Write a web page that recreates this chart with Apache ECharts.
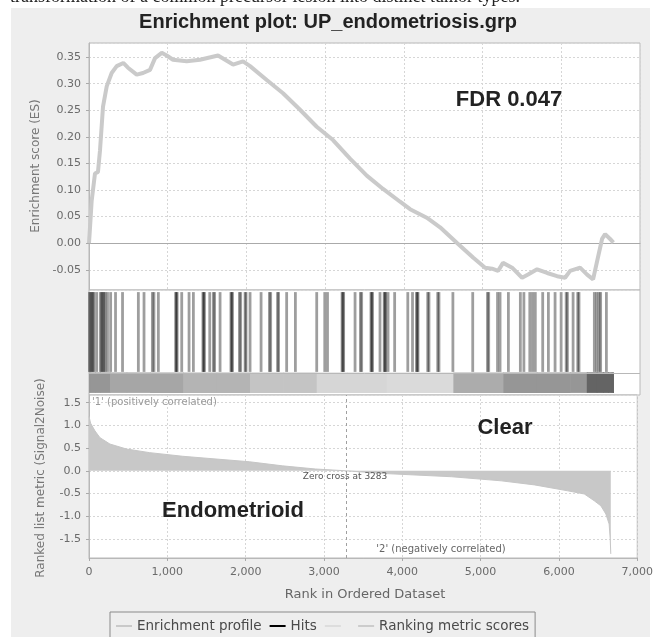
<!DOCTYPE html>
<html>
<head>
<meta charset="utf-8">
<script src="https://cdn.jsdelivr.net/npm/echarts@6/dist/echarts.min.js"></script>
<style>
  html, body { margin: 0; padding: 0; background: #ffffff; }
  #bg { position: absolute; left: 11px; top: 8px; width: 639px; height: 629px; background: #eeeeee; }
  #chart { position: absolute; left: 0; top: 0; width: 656px; height: 637px; }
</style>
</head>
<body>
<div id="bg"></div>
<div id="chart"></div>
<script>
// ---------------- data ----------------
const titleText = 'Enrichment plot: UP_endometriosis.grp';
const captionText = 'transformation of a common precursor lesion into distinct tumor types.';

// Running enrichment score (rank, ES)
const esRank = [0, 13, 34, 76, 114, 140, 178, 225, 288, 352, 436, 495, 606, 686, 775, 839, 924, 987, 1067, 1241,
  1410, 1639, 1830, 1957, 2046, 2258, 2465, 2681, 2893, 3100, 3316, 3529, 3736, 3952, 4079, 4291, 4460, 4672,
  4879, 5032, 5121, 5197, 5260, 5375, 5502, 5578, 5693, 5820, 5947, 6048, 6112, 6239, 6328, 6404, 6455, 6518,
  6557, 6620, 6662];
const esScore = [0.000, 0.030, 0.080, 0.131, 0.134, 0.175, 0.257, 0.295, 0.320, 0.333, 0.339, 0.330, 0.317, 0.320,
  0.326, 0.348, 0.358, 0.353, 0.345, 0.342, 0.345, 0.353, 0.336, 0.342, 0.333, 0.307, 0.282, 0.251, 0.219, 0.194,
  0.159, 0.127, 0.102, 0.078, 0.064, 0.048, 0.030, 0.001, -0.027, -0.046, -0.048, -0.052, -0.037, -0.046, -0.065,
  -0.059, -0.049, -0.056, -0.062, -0.065, -0.052, -0.046, -0.059, -0.068, -0.034, 0.008, 0.017, 0.008, 0.001];

// Ranks of the gene-set members (hits)
const hitRanks = [5, 20, 35, 50, 62, 98, 145, 160, 175, 190, 205, 235, 275, 337, 426, 627, 699, 805, 825, 881,
  1100, 1110, 1120, 1178, 1271, 1326, 1447, 1457, 1467, 1534, 1580, 1596, 1665, 1803, 1813, 1823, 1911, 1927,
  1983, 1995, 2046, 2186, 2292, 2308, 2395, 2409, 2511, 2622, 2893, 2995, 3030, 3215, 3225, 3235, 3380, 3448,
  3464, 3582, 3592, 3602, 3697, 3750, 3760, 3768, 3799, 3883, 4050, 4110, 4160, 4170, 4180, 4303, 4319, 4430,
  4446, 4623, 4875, 5062, 5078, 5190, 5222, 5328, 5480, 5525, 5600, 5635, 5670, 5764, 5836, 5921, 5998, 6062,
  6078, 6150, 6209, 6225, 6420, 6450, 6480, 6500, 6573];

// Ranked list metric (rank, Signal2Noise)
const metricRank = [0, 20, 76, 140, 267, 479, 775, 1198, 1622, 2046, 2469, 2893, 3283, 3783, 4629, 5264, 5689,
  6112, 6324, 6451, 6535, 6599, 6641, 6655, 6662];
const metricValue = [1.20, 1.05, 0.88, 0.73, 0.59, 0.48, 0.40, 0.32, 0.26, 0.20, 0.11, 0.04, 0.00, -0.06, -0.13,
  -0.22, -0.31, -0.44, -0.51, -0.66, -0.77, -0.95, -1.17, -1.50, -1.83];

const zeroCross = 3283;
const fdrLabel = 'FDR 0.047';
const posLabel = "'1' (positively correlated)";
const negLabel = "'2' (negatively correlated)";
const classA = 'Endometrioid';
const classB = 'Clear';

const xMin = 0, xMax = 7000, xStep = 1000;
// ---------------------------------------------------------------

const FONT = '"DejaVu Sans", sans-serif';
const BOLD = '"Liberation Sans", Arial, sans-serif';

function shade(v) {
  let g;
  if (v >= 0) {
    g = v > 0.6 ? 150 : v > 0.35 ? 166 : v > 0.22 ? 180 : v > 0.1 ? 196 : 214;
  } else {
    const a = -v;
    g = a < 0.12 ? 218 : a < 0.22 ? 172 : a < 0.5 ? 150 : 100;
  }
  return 'rgb(' + g + ',' + g + ',' + g + ')';
}

const esData = esRank.map((r, i) => [r, esScore[i]]);
const metricData = metricRank.map((r, i) => [r, metricValue[i]]);
const barSegments = [];
for (let i = 0; i < metricRank.length - 1; i++) {
  barSegments.push([metricRank[i], metricRank[i + 1], metricValue[i]]);
}

const chart = echarts.init(document.getElementById('chart'), null, { renderer: 'canvas' });

const gridCommon = { left: 89, width: 551, show: true, backgroundColor: '#ffffff', borderColor: '#b8b8b8', borderWidth: 1 };
const dotted = { show: true, lineStyle: { color: '#d6d6d6', type: [2, 2], width: 1 } };
const labelStyle = { color: '#6a6a6a', fontFamily: FONT, fontSize: 11 };

const option = {
  animation: false,
  backgroundColor: 'transparent',
  textStyle: { fontFamily: FONT },
  grid: [
    Object.assign({ top: 43, height: 247 }, gridCommon),
    Object.assign({ top: 290, height: 105 }, gridCommon),
    Object.assign({ top: 395, height: 163 }, gridCommon)
  ],
  xAxis: [
    { gridIndex: 0, type: 'value', min: xMin, max: xMax, interval: xStep,
      axisLine: { show: true, onZero: true, lineStyle: { color: '#aaaaaa', width: 1.2 } },
      axisTick: { show: false }, axisLabel: { show: false }, splitLine: dotted },
    { gridIndex: 1, type: 'value', min: xMin, max: xMax, interval: xStep,
      axisLine: { show: false }, axisTick: { show: false }, axisLabel: { show: false }, splitLine: { show: false } },
    { gridIndex: 2, type: 'value', min: xMin, max: xMax, interval: xStep,
      axisLine: { show: true, onZero: false, lineStyle: { color: '#b8b8b8' } },
      axisTick: { show: true, length: 3, lineStyle: { color: '#aaaaaa' } },
      axisLabel: Object.assign({ margin: 9, formatter: v => v.toLocaleString('en-US') }, labelStyle),
      splitLine: dotted }
  ],
  yAxis: [
    { gridIndex: 0, type: 'value', min: -0.088, max: 0.3765, splitNumber: 9,
      axisLine: { show: true, lineStyle: { color: '#b8b8b8' } },
      axisTick: { show: true, length: 3, lineStyle: { color: '#aaaaaa' } },
      axisLabel: Object.assign({ margin: 8, showMinLabel: false, showMaxLabel: false, formatter: v => v.toFixed(2) }, labelStyle),
      splitLine: dotted },
    { gridIndex: 1, type: 'value', min: 0, max: 1, show: false, splitLine: { show: false } },
    { gridIndex: 2, type: 'value', min: -1.92, max: 1.67, splitNumber: 7,
      axisLine: { show: true, lineStyle: { color: '#b8b8b8' } },
      axisTick: { show: true, length: 3, lineStyle: { color: '#aaaaaa' } },
      axisLabel: Object.assign({ margin: 8, showMinLabel: false, showMaxLabel: false, formatter: v => v.toFixed(1) }, labelStyle),
      splitLine: dotted }
  ],
  legend: {
    left: 110, top: 612,
    data: ['Enrichment profile', 'Hits', '\u00a0', 'Ranking metric scores'],
    icon: 'rect', itemWidth: 16, itemHeight: 2, itemGap: 8,
    borderColor: '#8a8a8a', borderWidth: 1, borderRadius: 0,
    padding: [7, 6, 20, 6],
    selectedMode: false,
    textStyle: { color: '#4a4a4a', fontFamily: FONT, fontSize: 13.5 }
  },
  series: [
    { name: 'Enrichment profile', type: 'line', xAxisIndex: 0, yAxisIndex: 0, data: esData,
      showSymbol: false, symbol: 'none', smooth: false, z: 5,
      itemStyle: { color: '#c9c9c9' },
      lineStyle: { color: '#cacaca', width: 4 } },
    { name: 'Hits', type: 'custom', xAxisIndex: 1, yAxisIndex: 1, data: hitRanks.map(r => [r]),
      itemStyle: { color: '#000000' },
      renderItem: function (params, api) {
        const p0 = api.coord([api.value(0), 0.98]);
        const p1 = api.coord([api.value(0), 0.22]);
        return { type: 'line', shape: { x1: p0[0], y1: p0[1], x2: p1[0], y2: p1[1] },
          style: { stroke: '#000000', lineWidth: 2.8, opacity: 0.38 } };
      },
      z: 4 },
    { name: '\u00a0', type: 'custom', xAxisIndex: 1, yAxisIndex: 1, data: barSegments,
      itemStyle: { color: '#dddddd' },
      renderItem: function (params, api) {
        const a = api.coord([api.value(0), 0.215]);
        const b = api.coord([api.value(1), 0.02]);
        return { type: 'rect', shape: { x: a[0], y: a[1], width: b[0] - a[0] + 0.6, height: b[1] - a[1] },
          style: { fill: shade(api.value(2)) } };
      },
      markLine: { silent: true, symbol: 'none', label: { show: false },
        lineStyle: { color: '#b8b8b8', type: 'solid', width: 1 }, data: [{ yAxis: 0.215 }] },
      z: 3 },
    { name: 'Ranking metric scores', type: 'line', xAxisIndex: 2, yAxisIndex: 2, data: metricData,
      showSymbol: false, symbol: 'none', z: 3,
      itemStyle: { color: '#cccccc' },
      lineStyle: { color: '#c6c6c6', width: 1 },
      areaStyle: { color: '#c8c8c8', opacity: 1 },
      markLine: { silent: true, symbol: 'none', label: { show: false },
        lineStyle: { color: '#a0a0a0', type: [3, 3], width: 1 }, data: [{ xAxis: zeroCross }] } }
  ],
  graphic: [
    { type: 'text', z: 100, style: { text: captionText, x: 10, y: 6, font: '18px "Liberation Serif", serif', fill: '#222', align: 'left', verticalAlign: 'bottom' } },
    { type: 'text', z: 100, style: { text: titleText, x: 328, y: 22, font: 'bold 20px ' + BOLD, fill: '#222', align: 'center', verticalAlign: 'middle' } },
    { type: 'text', z: 100, rotation: Math.PI / 2, x: 36, y: 166, style: { text: 'Enrichment score (ES)', x: 0, y: 0, font: '12px ' + FONT, fill: '#777', align: 'center', verticalAlign: 'middle' } },
    { type: 'text', z: 100, rotation: Math.PI / 2, x: 41, y: 478, style: { text: 'Ranked list metric (Signal2Noise)', x: 0, y: 0, font: '12px ' + FONT, fill: '#777', align: 'center', verticalAlign: 'middle' } },
    { type: 'text', z: 100, style: { text: 'Rank in Ordered Dataset', x: 365, y: 595, font: '13px ' + FONT, fill: '#666', align: 'center', verticalAlign: 'middle' } },
    { type: 'text', z: 100, style: { text: fdrLabel, x: 509, y: 100, font: 'bold 22px ' + BOLD, fill: '#222', align: 'center', verticalAlign: 'middle' } },
    { type: 'text', z: 100, style: { text: classB, x: 505, y: 428, font: 'bold 22px ' + BOLD, fill: '#222', align: 'center', verticalAlign: 'middle' } },
    { type: 'text', z: 100, style: { text: classA, x: 233, y: 511, font: 'bold 22px ' + BOLD, fill: '#222', align: 'center', verticalAlign: 'middle' } },
    { type: 'text', z: 100, style: { text: posLabel, x: 92, y: 402, font: '10px ' + FONT, fill: '#9a9a9a', align: 'left', verticalAlign: 'middle' } },
    { type: 'text', z: 100, style: { text: 'Zero cross at ' + zeroCross, x: 345, y: 477, font: '9px ' + FONT, fill: '#555', align: 'center', verticalAlign: 'middle' } },
    { type: 'text', z: 100, style: { text: negLabel, x: 441, y: 549, font: '10px ' + FONT, fill: '#666', align: 'center', verticalAlign: 'middle' } }
  ]
};

chart.setOption(option);
</script>
</body>
</html>
